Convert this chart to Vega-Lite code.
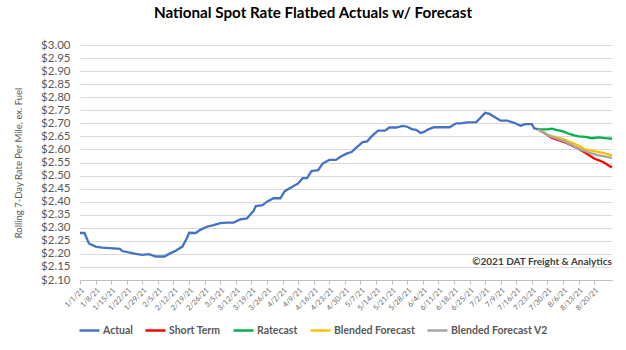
{
  "$schema": "https://vega.github.io/schema/vega-lite/v6.json",
  "width": 532,
  "height": 235,
  "autosize": {"type": "none"},
  "padding": {"left": 80, "top": 45, "right": 14, "bottom": 70},
  "background": "white",
  "title": {"text": "National Spot Rate Flatbed Actuals w/ Forecast", "font": "Lato", "fontSize": 15.2, "fontWeight": "bold", "color": "#000000", "anchor": "middle", "frame": "group", "dx": -33, "offset": 18},
  "config": {"view": {"stroke": null}, "font": "Lato"},
  "encoding": {
    "x": {
      "field": "date", "type": "temporal",
      "scale": {"type": "utc", "domain": [{"year": 2021, "month": 1, "date": 1, "utc": true}, {"year": 2021, "month": 8, "date": 28, "utc": true}]},
      "axis": {
        "title": null,
        "values": [
          {"year": 2021, "month": 1, "date": 1, "utc": true}, {"year": 2021, "month": 1, "date": 8, "utc": true}, {"year": 2021, "month": 1, "date": 15, "utc": true}, {"year": 2021, "month": 1, "date": 22, "utc": true}, {"year": 2021, "month": 1, "date": 29, "utc": true},
          {"year": 2021, "month": 2, "date": 5, "utc": true}, {"year": 2021, "month": 2, "date": 12, "utc": true}, {"year": 2021, "month": 2, "date": 19, "utc": true}, {"year": 2021, "month": 2, "date": 26, "utc": true},
          {"year": 2021, "month": 3, "date": 5, "utc": true}, {"year": 2021, "month": 3, "date": 12, "utc": true}, {"year": 2021, "month": 3, "date": 19, "utc": true}, {"year": 2021, "month": 3, "date": 26, "utc": true},
          {"year": 2021, "month": 4, "date": 2, "utc": true}, {"year": 2021, "month": 4, "date": 9, "utc": true}, {"year": 2021, "month": 4, "date": 16, "utc": true}, {"year": 2021, "month": 4, "date": 23, "utc": true}, {"year": 2021, "month": 4, "date": 30, "utc": true},
          {"year": 2021, "month": 5, "date": 7, "utc": true}, {"year": 2021, "month": 5, "date": 14, "utc": true}, {"year": 2021, "month": 5, "date": 21, "utc": true}, {"year": 2021, "month": 5, "date": 28, "utc": true},
          {"year": 2021, "month": 6, "date": 4, "utc": true}, {"year": 2021, "month": 6, "date": 11, "utc": true}, {"year": 2021, "month": 6, "date": 18, "utc": true}, {"year": 2021, "month": 6, "date": 25, "utc": true},
          {"year": 2021, "month": 7, "date": 2, "utc": true}, {"year": 2021, "month": 7, "date": 9, "utc": true}, {"year": 2021, "month": 7, "date": 16, "utc": true}, {"year": 2021, "month": 7, "date": 23, "utc": true}, {"year": 2021, "month": 7, "date": 30, "utc": true},
          {"year": 2021, "month": 8, "date": 6, "utc": true}, {"year": 2021, "month": 8, "date": 13, "utc": true}, {"year": 2021, "month": 8, "date": 20, "utc": true}
        ],
        "format": "%-m/%-d/%y",
        "labelAngle": -45,
        "labelFontSize": 7.5,
        "labelColor": "#6b6b6b",
        "labelOverlap": false,
        "labelFlush": false,
        "labelPadding": 2,
        "tickSize": 4,
        "tickColor": "#bfbfbf",
        "domainColor": "#bfbfbf",
        "grid": false
      }
    },
    "y": {
      "field": "value", "type": "quantitative",
      "scale": {"domain": [2.1, 3.0], "zero": false, "nice": false},
      "axis": {
        "title": "Rolling 7-Day Rate Per Mile, ex. Fuel",
        "titleFontSize": 9.5,
        "titleFontWeight": "normal",
        "titleColor": "#595959",
        "titleX": -62,
        "titleY": 117.5,
        "titleAngle": 270,
        "titleAlign": "center",
        "titleBaseline": "middle",
        "values": [2.1, 2.15, 2.2, 2.25, 2.3, 2.35, 2.4, 2.45, 2.5, 2.55, 2.6, 2.65, 2.7, 2.75, 2.8, 2.85, 2.9, 2.95, 3.0],
        "format": "$.2f",
        "labelFontSize": 11.5,
        "labelColor": "#595959",
        "labelPadding": 10,
        "labelOverlap": false,
        "ticks": false,
        "domain": false,
        "grid": true,
        "gridColor": "#d9d9d9",
        "gridWidth": 1
      }
    }
  },
  "layer": [
    {
      "data": {"values": [
        {"series": "Actual", "date": "2021-01-01", "value": 2.28},
        {"series": "Actual", "date": "2021-01-03", "value": 2.28},
        {"series": "Actual", "date": "2021-01-05", "value": 2.24},
        {"series": "Actual", "date": "2021-01-08", "value": 2.228},
        {"series": "Actual", "date": "2021-01-11", "value": 2.224},
        {"series": "Actual", "date": "2021-01-19", "value": 2.219},
        {"series": "Actual", "date": "2021-01-20", "value": 2.211},
        {"series": "Actual", "date": "2021-01-26", "value": 2.2},
        {"series": "Actual", "date": "2021-01-29", "value": 2.196},
        {"series": "Actual", "date": "2021-02-01", "value": 2.199},
        {"series": "Actual", "date": "2021-02-04", "value": 2.19},
        {"series": "Actual", "date": "2021-02-08", "value": 2.19},
        {"series": "Actual", "date": "2021-02-10", "value": 2.2},
        {"series": "Actual", "date": "2021-02-13", "value": 2.212},
        {"series": "Actual", "date": "2021-02-16", "value": 2.228},
        {"series": "Actual", "date": "2021-02-18", "value": 2.26},
        {"series": "Actual", "date": "2021-02-19", "value": 2.281},
        {"series": "Actual", "date": "2021-02-22", "value": 2.28},
        {"series": "Actual", "date": "2021-02-24", "value": 2.292},
        {"series": "Actual", "date": "2021-02-27", "value": 2.304},
        {"series": "Actual", "date": "2021-03-02", "value": 2.31},
        {"series": "Actual", "date": "2021-03-05", "value": 2.318},
        {"series": "Actual", "date": "2021-03-08", "value": 2.32},
        {"series": "Actual", "date": "2021-03-11", "value": 2.32},
        {"series": "Actual", "date": "2021-03-14", "value": 2.332},
        {"series": "Actual", "date": "2021-03-17", "value": 2.336},
        {"series": "Actual", "date": "2021-03-20", "value": 2.365},
        {"series": "Actual", "date": "2021-03-21", "value": 2.383},
        {"series": "Actual", "date": "2021-03-24", "value": 2.387},
        {"series": "Actual", "date": "2021-03-26", "value": 2.4},
        {"series": "Actual", "date": "2021-03-29", "value": 2.413},
        {"series": "Actual", "date": "2021-04-01", "value": 2.413},
        {"series": "Actual", "date": "2021-04-03", "value": 2.44},
        {"series": "Actual", "date": "2021-04-05", "value": 2.45},
        {"series": "Actual", "date": "2021-04-09", "value": 2.47},
        {"series": "Actual", "date": "2021-04-11", "value": 2.49},
        {"series": "Actual", "date": "2021-04-13", "value": 2.49},
        {"series": "Actual", "date": "2021-04-15", "value": 2.517},
        {"series": "Actual", "date": "2021-04-18", "value": 2.521},
        {"series": "Actual", "date": "2021-04-20", "value": 2.546},
        {"series": "Actual", "date": "2021-04-23", "value": 2.56},
        {"series": "Actual", "date": "2021-04-26", "value": 2.56},
        {"series": "Actual", "date": "2021-04-28", "value": 2.572},
        {"series": "Actual", "date": "2021-05-01", "value": 2.585},
        {"series": "Actual", "date": "2021-05-03", "value": 2.59},
        {"series": "Actual", "date": "2021-05-05", "value": 2.606},
        {"series": "Actual", "date": "2021-05-08", "value": 2.628},
        {"series": "Actual", "date": "2021-05-10", "value": 2.631},
        {"series": "Actual", "date": "2021-05-12", "value": 2.65},
        {"series": "Actual", "date": "2021-05-14", "value": 2.665},
        {"series": "Actual", "date": "2021-05-15", "value": 2.672},
        {"series": "Actual", "date": "2021-05-18", "value": 2.672},
        {"series": "Actual", "date": "2021-05-20", "value": 2.684},
        {"series": "Actual", "date": "2021-05-23", "value": 2.684},
        {"series": "Actual", "date": "2021-05-26", "value": 2.69},
        {"series": "Actual", "date": "2021-05-28", "value": 2.687},
        {"series": "Actual", "date": "2021-05-30", "value": 2.678},
        {"series": "Actual", "date": "2021-06-01", "value": 2.675},
        {"series": "Actual", "date": "2021-06-03", "value": 2.663},
        {"series": "Actual", "date": "2021-06-05", "value": 2.669},
        {"series": "Actual", "date": "2021-06-06", "value": 2.675},
        {"series": "Actual", "date": "2021-06-09", "value": 2.685},
        {"series": "Actual", "date": "2021-06-16", "value": 2.685},
        {"series": "Actual", "date": "2021-06-19", "value": 2.7},
        {"series": "Actual", "date": "2021-06-21", "value": 2.7},
        {"series": "Actual", "date": "2021-06-24", "value": 2.704},
        {"series": "Actual", "date": "2021-06-28", "value": 2.705},
        {"series": "Actual", "date": "2021-06-30", "value": 2.722},
        {"series": "Actual", "date": "2021-07-02", "value": 2.74},
        {"series": "Actual", "date": "2021-07-04", "value": 2.736},
        {"series": "Actual", "date": "2021-07-06", "value": 2.725},
        {"series": "Actual", "date": "2021-07-09", "value": 2.71},
        {"series": "Actual", "date": "2021-07-12", "value": 2.71},
        {"series": "Actual", "date": "2021-07-15", "value": 2.702},
        {"series": "Actual", "date": "2021-07-18", "value": 2.691},
        {"series": "Actual", "date": "2021-07-20", "value": 2.697},
        {"series": "Actual", "date": "2021-07-23", "value": 2.697},
        {"series": "Actual", "date": "2021-07-24", "value": 2.681},
        {"series": "Actual", "date": "2021-07-26", "value": 2.677},
        {"series": "Short Term", "date": "2021-07-26", "value": 2.677},
        {"series": "Short Term", "date": "2021-08-01", "value": 2.644},
        {"series": "Short Term", "date": "2021-08-07", "value": 2.627},
        {"series": "Short Term", "date": "2021-08-13", "value": 2.603},
        {"series": "Short Term", "date": "2021-08-16", "value": 2.587},
        {"series": "Short Term", "date": "2021-08-20", "value": 2.565},
        {"series": "Short Term", "date": "2021-08-24", "value": 2.552},
        {"series": "Short Term", "date": "2021-08-28", "value": 2.531},
        {"series": "Ratecast", "date": "2021-07-26", "value": 2.677},
        {"series": "Ratecast", "date": "2021-07-30", "value": 2.677},
        {"series": "Ratecast", "date": "2021-08-01", "value": 2.68},
        {"series": "Ratecast", "date": "2021-08-03", "value": 2.675},
        {"series": "Ratecast", "date": "2021-08-06", "value": 2.669},
        {"series": "Ratecast", "date": "2021-08-08", "value": 2.662},
        {"series": "Ratecast", "date": "2021-08-11", "value": 2.654},
        {"series": "Ratecast", "date": "2021-08-13", "value": 2.65},
        {"series": "Ratecast", "date": "2021-08-16", "value": 2.648},
        {"series": "Ratecast", "date": "2021-08-19", "value": 2.643},
        {"series": "Ratecast", "date": "2021-08-22", "value": 2.646},
        {"series": "Ratecast", "date": "2021-08-25", "value": 2.643},
        {"series": "Ratecast", "date": "2021-08-28", "value": 2.641},
        {"series": "Blended Forecast", "date": "2021-07-26", "value": 2.675},
        {"series": "Blended Forecast", "date": "2021-07-30", "value": 2.656},
        {"series": "Blended Forecast", "date": "2021-08-06", "value": 2.64},
        {"series": "Blended Forecast", "date": "2021-08-12", "value": 2.619},
        {"series": "Blended Forecast", "date": "2021-08-16", "value": 2.6},
        {"series": "Blended Forecast", "date": "2021-08-20", "value": 2.594},
        {"series": "Blended Forecast", "date": "2021-08-24", "value": 2.587},
        {"series": "Blended Forecast", "date": "2021-08-28", "value": 2.577},
        {"series": "Blended Forecast V2", "date": "2021-07-26", "value": 2.675},
        {"series": "Blended Forecast V2", "date": "2021-08-01", "value": 2.648},
        {"series": "Blended Forecast V2", "date": "2021-08-07", "value": 2.63},
        {"series": "Blended Forecast V2", "date": "2021-08-13", "value": 2.603},
        {"series": "Blended Forecast V2", "date": "2021-08-18", "value": 2.587},
        {"series": "Blended Forecast V2", "date": "2021-08-22", "value": 2.577},
        {"series": "Blended Forecast V2", "date": "2021-08-28", "value": 2.568}
      ]},
      "mark": {"type": "line", "strokeWidth": 2.3},
      "encoding": {
        "color": {
          "field": "series", "type": "nominal",
          "scale": {"domain": ["Actual", "Short Term", "Ratecast", "Blended Forecast", "Blended Forecast V2"], "range": ["#4472C4", "#FF0000", "#00B050", "#FFC000", "#A5A5A5"]},
          "legend": {
            "title": null,
            "orient": "none",
            "direction": "horizontal",
            "legendX": -2,
            "legendY": 274,
            "symbolType": "stroke",
            "symbolSize": 400,
            "symbolStrokeWidth": 2.5,
            "labelFont": "Lato",
            "labelFontWeight": "bold",
            "labelFontSize": 10.5,
            "labelColor": "#595959",
            "labelOffset": 2,
            "columnPadding": 7
          }
        }
      }
    },
    {
      "data": {"values": [{"date": "2021-08-28", "value": 2.17, "label": "©2021 DAT Freight & Analytics"}]},
      "mark": {"type": "text", "align": "right", "baseline": "middle", "font": "Lato", "fontWeight": "bold", "fontSize": 10, "color": "#404040"},
      "encoding": {
        "text": {"field": "label"}
      }
    }
  ]
}
